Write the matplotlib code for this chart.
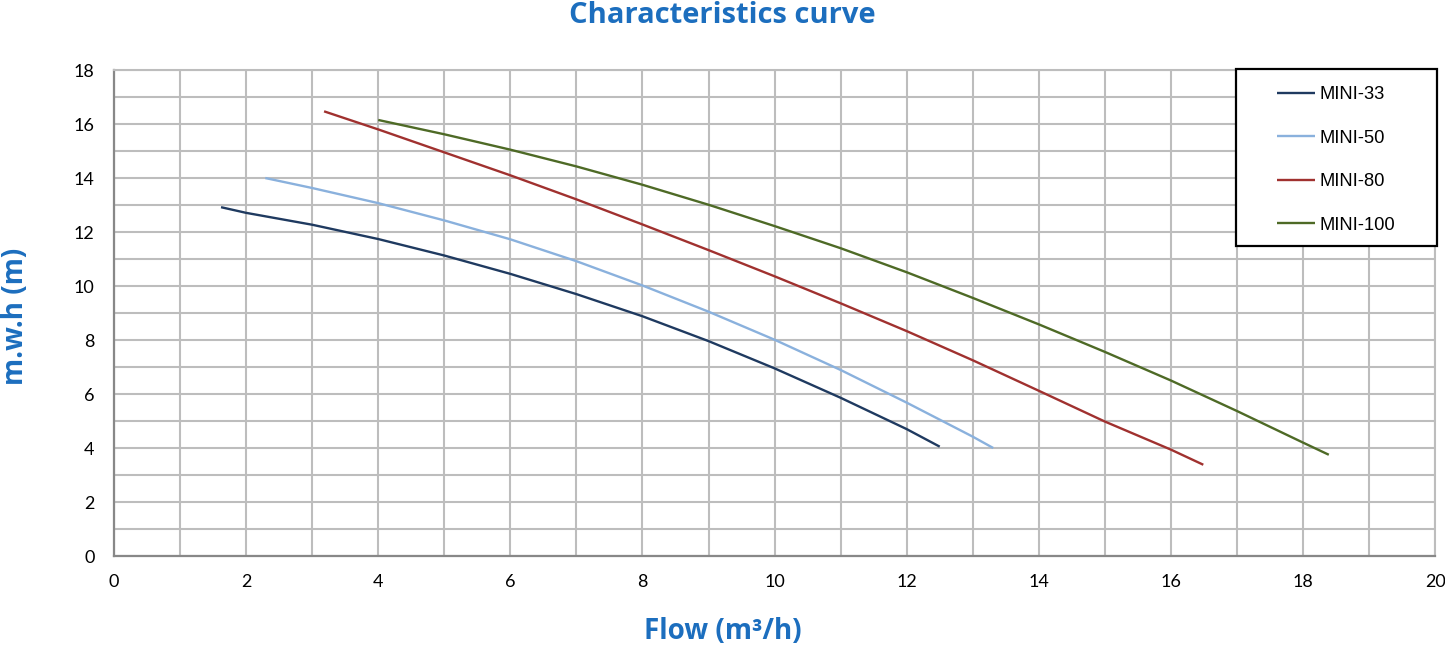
import matplotlib.pyplot as plt
from matplotlib.patches import Rectangle
from matplotlib.ticker import MultipleLocator

# pump curves (flow m3/h, head m)
mini33_flow = [1.62, 2, 3, 4, 5, 6, 7, 8, 9, 10, 11, 12, 12.5]
mini33_head = [12.92, 12.71, 12.27, 11.74, 11.13, 10.45, 9.7, 8.88, 7.96, 6.95, 5.86, 4.7, 4.05]

mini50_flow = [2.29, 3, 4, 5, 6, 7, 8, 9, 10, 11, 12, 13, 13.31]
mini50_head = [14.0, 13.63, 13.07, 12.43, 11.73, 10.92, 10.02, 9.05, 8.01, 6.89, 5.68, 4.42, 4.0]

mini80_flow = [3.18, 4, 5, 6, 7, 8, 9, 10, 11, 12, 13, 14, 15, 16, 16.49]
mini80_head = [16.47, 15.8, 14.95, 14.1, 13.21, 12.28, 11.33, 10.36, 9.36, 8.33, 7.25, 6.12, 4.98, 3.94, 3.38]

mini100_flow = [4.0, 5, 6, 7, 8, 9, 10, 11, 12, 13, 14, 15, 16, 17, 18, 18.39]
mini100_head = [16.15, 15.62, 15.05, 14.43, 13.75, 13.01, 12.22, 11.4, 10.51, 9.56, 8.58, 7.56, 6.5, 5.37, 4.2, 3.75]

labels = ['MINI-33', 'MINI-50', 'MINI-80', 'MINI-100']
colors = ['#1F3A60', '#8AB1DD', '#A0312F', '#4E6A26']

blue = '#1C6EBE'

fig = plt.figure(figsize=(14.45, 6.46), dpi=100)
ax = fig.add_axes([0.0789, 0.1393, 0.9143, 0.7523])

series = [(mini33_flow, mini33_head), (mini50_flow, mini50_head),
          (mini80_flow, mini80_head), (mini100_flow, mini100_head)]
for (fx, hy), lab, c in zip(series, labels, colors):
    ax.plot(fx, hy, color=c, lw=1.7, label=lab, solid_capstyle='butt',
            solid_joinstyle='round', zorder=3)

ax.set_xlim(0, 20)
ax.set_ylim(0, 18)
ax.xaxis.set_major_locator(MultipleLocator(2))
ax.xaxis.set_minor_locator(MultipleLocator(1))
ax.yaxis.set_major_locator(MultipleLocator(2))
ax.yaxis.set_minor_locator(MultipleLocator(1))
ax.grid(which='both', color='#BDBDBD', lw=1.5, zorder=0)
ax.set_axisbelow(True)
ax.tick_params(which='both', length=0)
ax.tick_params(axis='y', pad=14, labelsize=13)
ax.tick_params(axis='x', pad=13, labelsize=13)
for lab in ax.get_xticklabels() + ax.get_yticklabels():
    lab.set_fontfamily('Lato')

for s in ['top', 'right']:
    ax.spines[s].set_color('#BDBDBD')
    ax.spines[s].set_linewidth(1.5)
for s in ['left', 'bottom']:
    ax.spines[s].set_color('#888888')
    ax.spines[s].set_linewidth(1.6)

# legend box drawn separately so the padding can be wide like the reference
box = Rectangle((0.8494, 0.638), 0.1521, 0.364, transform=ax.transAxes,
                facecolor='white', edgecolor='black', lw=1.6, zorder=5,
                clip_on=False)
ax.add_patch(box)
leg = ax.legend(loc='center', bbox_to_anchor=(0.9247, 0.815), borderaxespad=0,
                frameon=False, prop={'family': 'Liberation Sans', 'size': 13.2},
                handlelength=2.07, handletextpad=0.25, labelspacing=1.45,
                borderpad=0)
leg.set_zorder(6)

fig.text(0.5, 0.976, 'Characteristics curve', ha='center', va='center',
         fontsize=21, fontweight='bold', color=blue, family='Open Sans')
fig.text(0.5, 0.022, 'Flow (m\u00b3/h)', ha='center', va='center',
         fontsize=20, fontweight='bold', color=blue, family='Open Sans')
fig.text(0.011, 0.51, 'm.w.h (m)', ha='center', va='center', rotation=90,
         fontsize=20, fontweight='bold', color=blue, family='Open Sans')

fig.savefig('out.png', dpi=100)
